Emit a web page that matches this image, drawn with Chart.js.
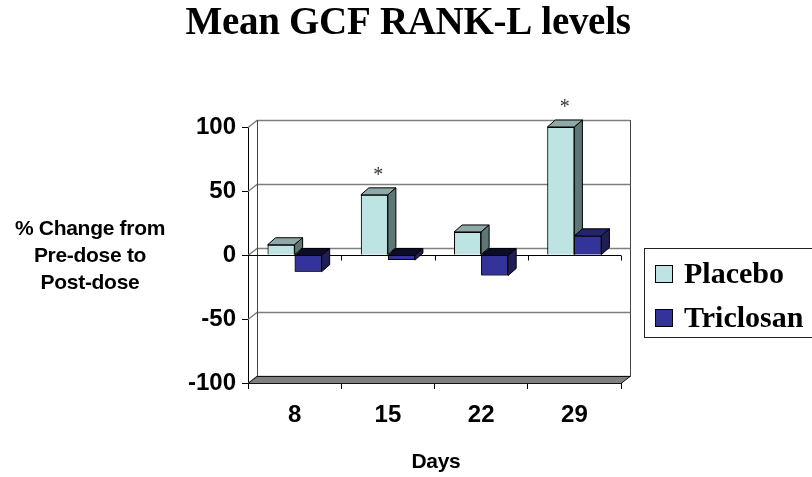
<!DOCTYPE html>
<html>
<head>
<meta charset="utf-8">
<title>Mean GCF RANK-L levels</title>
<script src="https://cdn.jsdelivr.net/npm/chart.js@4/dist/chart.umd.min.js"></script>
<style>
  html, body { margin: 0; padding: 0; background: #fff; }
  canvas { display: block; }
</style>
</head>
<body>
<canvas id="rankl" width="812" height="477"></canvas>
<script>
// Mean % change in GCF RANK-L, by study day
const days      = ['8', '15', '22', '29'];
const placebo   = [8, 47, 18, 100];
const triclosan = [-13, -4, -16, 15];
const placeboMarks = ['', '*', '', '*'];   // significance markers over placebo columns
const yTicks    = [-100, -50, 0, 50, 100];

const titleText  = 'Mean GCF RANK-L levels';
const yTitle     = ['% Change from', 'Pre-dose to', 'Post-dose'];
const xTitle     = 'Days';

// depth of the back wall and of the columns
const WALL_DX = 9, WALL_DY = 7;
const COL_DX = 8, COL_DY = 7;

const faces = [
  { top: '#8fa9a9', side: '#5f7676', under: '#5f7676' },
  { top: '#24246e', side: '#1f1f55', under: '#0c0c2a' }
];

function poly(ctx, pts, fill, stroke) {
  ctx.beginPath();
  ctx.moveTo(pts[0][0], pts[0][1]);
  for (let i = 1; i < pts.length; i++) ctx.lineTo(pts[i][0], pts[i][1]);
  ctx.closePath();
  if (fill) { ctx.fillStyle = fill; ctx.fill(); }
  if (stroke) { ctx.strokeStyle = stroke; ctx.lineWidth = 1; ctx.stroke(); }
}

const box3d = {
  id: 'box3d',
  beforeDatasetsDraw(chart) {
    const { ctx, chartArea: a, scales: { y } } = chart;
    ctx.save();
    // back wall
    ctx.strokeStyle = '#444';
    ctx.lineWidth = 1;
    ctx.strokeRect(a.left + WALL_DX + 0.5, a.top - WALL_DY + 0.5, a.right - a.left, a.bottom - a.top);
    // gridlines on the wall + left side wall
    yTicks.forEach(v => {
      const py = Math.round(y.getPixelForValue(v)) + 0.5;
      ctx.beginPath();
      ctx.moveTo(a.left, py);
      ctx.lineTo(a.left + WALL_DX, py - WALL_DY);
      ctx.lineTo(a.right + WALL_DX, py - WALL_DY);
      ctx.strokeStyle = '#7f7f7f';
      ctx.lineWidth = 1.5;
      ctx.stroke();
    });
    ctx.beginPath();
    ctx.moveTo(a.left + WALL_DX + 0.5, a.top - WALL_DY);
    ctx.lineTo(a.left + WALL_DX + 0.5, a.bottom - WALL_DY);
    ctx.strokeStyle = '#444';
    ctx.lineWidth = 1;
    ctx.stroke();
    // floor slab at the bottom of the scale
    const fb = Math.round(y.getPixelForValue(-100)) + 0.5;
    poly(ctx, [[a.left, fb], [a.left + WALL_DX, fb - WALL_DY], [a.right + WALL_DX, fb - WALL_DY], [a.right, fb]], '#808080', '#111');
    // front zero line with category ticks
    const zy = Math.round(y.getPixelForValue(0)) + 0.5;
    ctx.beginPath();
    ctx.moveTo(a.left, zy);
    ctx.lineTo(a.right, zy);
    const step = (a.right - a.left) / days.length;
    for (let i = 1; i <= days.length; i++) {
      const px = Math.round(a.left + step * i) + 0.5;
      ctx.moveTo(px, zy);
      ctx.lineTo(px, zy + 5);
    }
    ctx.strokeStyle = '#000';
    ctx.lineWidth = 1;
    ctx.stroke();
    ctx.restore();
  },
  // redraw the columns series by series so each one's top/side sits behind the next front face
  afterDatasetsDraw(chart) {
    const { ctx } = chart;
    ctx.save();
    chart.data.datasets.forEach((ds, i) => {
      const f = faces[i];
      chart.getDatasetMeta(i).data.forEach(bar => {
        bar.draw(ctx);
        const l = bar.x - bar.width / 2, r = bar.x + bar.width / 2;
        const top = Math.min(bar.y, bar.base), bottom = Math.max(bar.y, bar.base);
        const neg = bar.y > bar.base;
        poly(ctx, [[l, top], [l + COL_DX, top - COL_DY], [r + COL_DX, top - COL_DY], [r, top]], neg ? f.under : f.top, '#000');
        poly(ctx, [[r, top], [r + COL_DX, top - COL_DY], [r + COL_DX, bottom - COL_DY], [r, bottom]], f.side, '#000');
      });
    });
    ctx.restore();
  },
  afterDraw(chart) {
    const { ctx } = chart;
    ctx.save();

    // significance markers
    const pm = chart.getDatasetMeta(0);
    ctx.font = '20px "Liberation Serif"';
    ctx.textAlign = 'center';
    ctx.textBaseline = 'middle';
    ctx.fillStyle = '#333';
    pm.data.forEach((bar, i) => {
      if (placeboMarks[i]) ctx.fillText(placeboMarks[i], bar.x + COL_DX / 2, bar.y - COL_DY - 12);
    });

    ctx.fillStyle = '#000';
    // title
    ctx.font = 'bold 39px "Liberation Serif"';
    ctx.letterSpacing = '-0.3px';
    ctx.textBaseline = 'alphabetic';
    ctx.fillText(titleText, 408, 34);

    // axis titles
    ctx.font = 'bold 21px "Liberation Sans"';
    ctx.letterSpacing = '-0.3px';
    ctx.textBaseline = 'middle';
    yTitle.forEach((line, i) => ctx.fillText(line, 90, 229 + i * 27));
    ctx.fillText(xTitle, 436, 462);

    // legend
    ctx.strokeStyle = '#222';
    ctx.lineWidth = 1;
    ctx.strokeRect(644.5, 248.5, 220, 89);
    ctx.font = 'bold 30px "Liberation Serif"';
    ctx.letterSpacing = '0px';
    ctx.textAlign = 'left';
    chart.data.datasets.forEach((ds, i) => {
      const cy = 274 + i * 44;
      ctx.fillStyle = ds.backgroundColor;
      ctx.fillRect(655, cy - 9, 18, 18);
      ctx.strokeStyle = '#000';
      ctx.strokeRect(655.5, cy - 8.5, 17, 17);
      ctx.fillStyle = '#000';
      ctx.fillText(ds.label, 684, cy + 1);
    });
    ctx.restore();
  }
};

new Chart(document.getElementById('rankl'), {
  type: 'bar',
  data: {
    labels: days,
    datasets: [
      { label: 'Placebo', data: placebo, backgroundColor: '#bde3e3', borderColor: '#000', borderWidth: 1 },
      { label: 'Triclosan', data: triclosan, backgroundColor: '#333399', borderColor: '#000', borderWidth: 1 }
    ]
  },
  options: {
    responsive: false,
    animation: false,
    layout: { padding: { left: 0, top: 127, right: 191, bottom: 44 } },
    datasets: { bar: { categoryPercentage: 0.58, barPercentage: 1 } },
    plugins: { legend: { display: false }, title: { display: false }, tooltip: { enabled: false } },
    scales: {
      x: {
        grid: { drawOnChartArea: false, tickLength: 6, tickColor: '#000' },
        border: { color: '#000' },
        ticks: { color: '#000', padding: 12, font: { family: 'Liberation Sans', size: 24, weight: 'bold' } },
        afterFit: s => { s.height = 50; }
      },
      y: {
        min: -100,
        max: 100,
        afterBuildTicks: s => { s.ticks = yTicks.map(v => ({ value: v })); },
        grid: { drawOnChartArea: false, tickLength: 6, tickColor: '#000' },
        border: { color: '#000' },
        ticks: { color: '#000', padding: 6, font: { family: 'Liberation Sans', size: 24, weight: 'bold' } },
        afterFit: s => { s.width = 248; }
      }
    }
  },
  plugins: [box3d]
});
</script>
</body>
</html>
